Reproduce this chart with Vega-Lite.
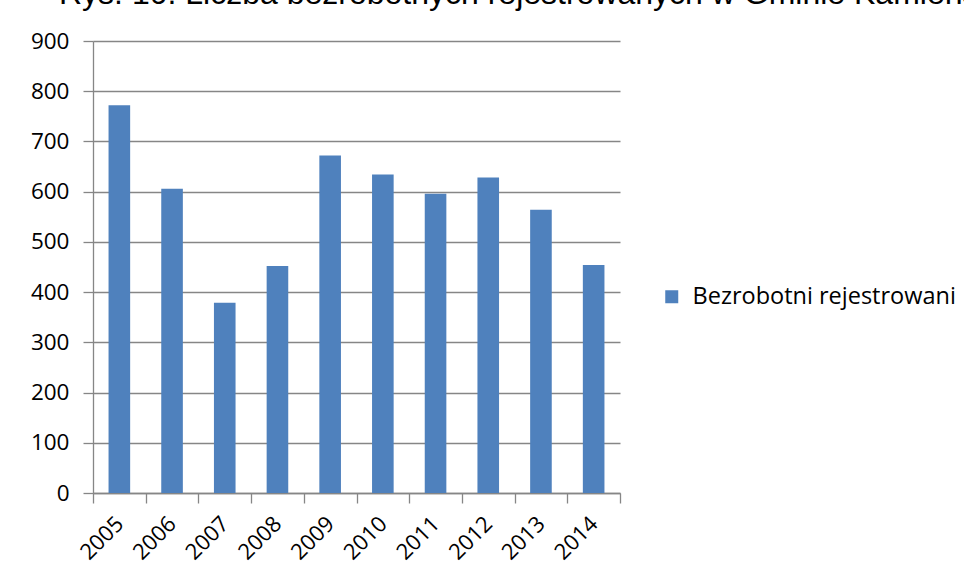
{
  "$schema": "https://vega.github.io/schema/vega-lite/v6.json",
  "width": 527,
  "height": 452,
  "autosize": "none",
  "padding": {"left": 93, "top": 41, "right": 344, "bottom": 90},
  "title": {
    "text": "Rys. 10. Liczba bezrobotnych rejestrowanych w Gminie Kamieńsk",
    "anchor": "start",
    "frame": "group",
    "dx": -34,
    "offset": -6,
    "baseline": "alphabetic",
    "font": "Liberation Sans",
    "fontSize": 32,
    "fontWeight": "normal",
    "color": "#000000"
  },
  "data": {
    "values": [
      {"rok": "2005", "liczba": 772, "seria": "Bezrobotni rejestrowani"},
      {"rok": "2006", "liczba": 606, "seria": "Bezrobotni rejestrowani"},
      {"rok": "2007", "liczba": 379, "seria": "Bezrobotni rejestrowani"},
      {"rok": "2008", "liczba": 452, "seria": "Bezrobotni rejestrowani"},
      {"rok": "2009", "liczba": 672, "seria": "Bezrobotni rejestrowani"},
      {"rok": "2010", "liczba": 634, "seria": "Bezrobotni rejestrowani"},
      {"rok": "2011", "liczba": 596, "seria": "Bezrobotni rejestrowani"},
      {"rok": "2012", "liczba": 628, "seria": "Bezrobotni rejestrowani"},
      {"rok": "2013", "liczba": 564, "seria": "Bezrobotni rejestrowani"},
      {"rok": "2014", "liczba": 454, "seria": "Bezrobotni rejestrowani"}
    ]
  },
  "mark": {"type": "bar", "width": {"band": 0.41}},
  "encoding": {
    "x": {
      "field": "rok",
      "type": "ordinal",
      "title": null,
      "scale": {"paddingInner": 0, "paddingOuter": 0},
      "axis": {
        "domainColor": "#868686",
        "domainWidth": 1.3,
        "tickColor": "#868686",
        "tickWidth": 1.3,
        "tickSize": 10,
        "tickBand": "extent",
        "labelAngle": -45,
        "labelAlign": "right",
        "labelBaseline": "middle",
        "labelPadding": 17,
        "labelFont": "Open Sans",
        "labelFontSize": 22,
        "labelColor": "#000000",
        "grid": false
      }
    },
    "y": {
      "field": "liczba",
      "type": "quantitative",
      "title": null,
      "scale": {"domain": [0, 900], "nice": false},
      "axis": {
        "values": [0, 100, 200, 300, 400, 500, 600, 700, 800, 900],
        "domainColor": "#868686",
        "domainWidth": 1.3,
        "tickColor": "#868686",
        "tickWidth": 1.3,
        "tickSize": 10,
        "grid": true,
        "gridColor": "#868686",
        "gridWidth": 1.3,
        "labelPadding": 14,
        "labelFont": "Open Sans",
        "labelFontSize": 22.5,
        "labelColor": "#000000"
      }
    },
    "color": {
      "field": "seria",
      "type": "nominal",
      "scale": {"range": ["#4F81BD"]},
      "legend": {
        "title": null,
        "orient": "none",
        "legendX": 567,
        "legendY": 244,
        "symbolType": "square",
        "symbolSize": 169,
        "symbolStrokeWidth": 0,
        "labelFont": "Open Sans",
        "labelFontSize": 23.5,
        "labelLimit": 400,
        "labelColor": "#000000",
        "labelOffset": 9
      }
    }
  },
  "config": {"view": {"stroke": null}, "background": "#ffffff"}
}
